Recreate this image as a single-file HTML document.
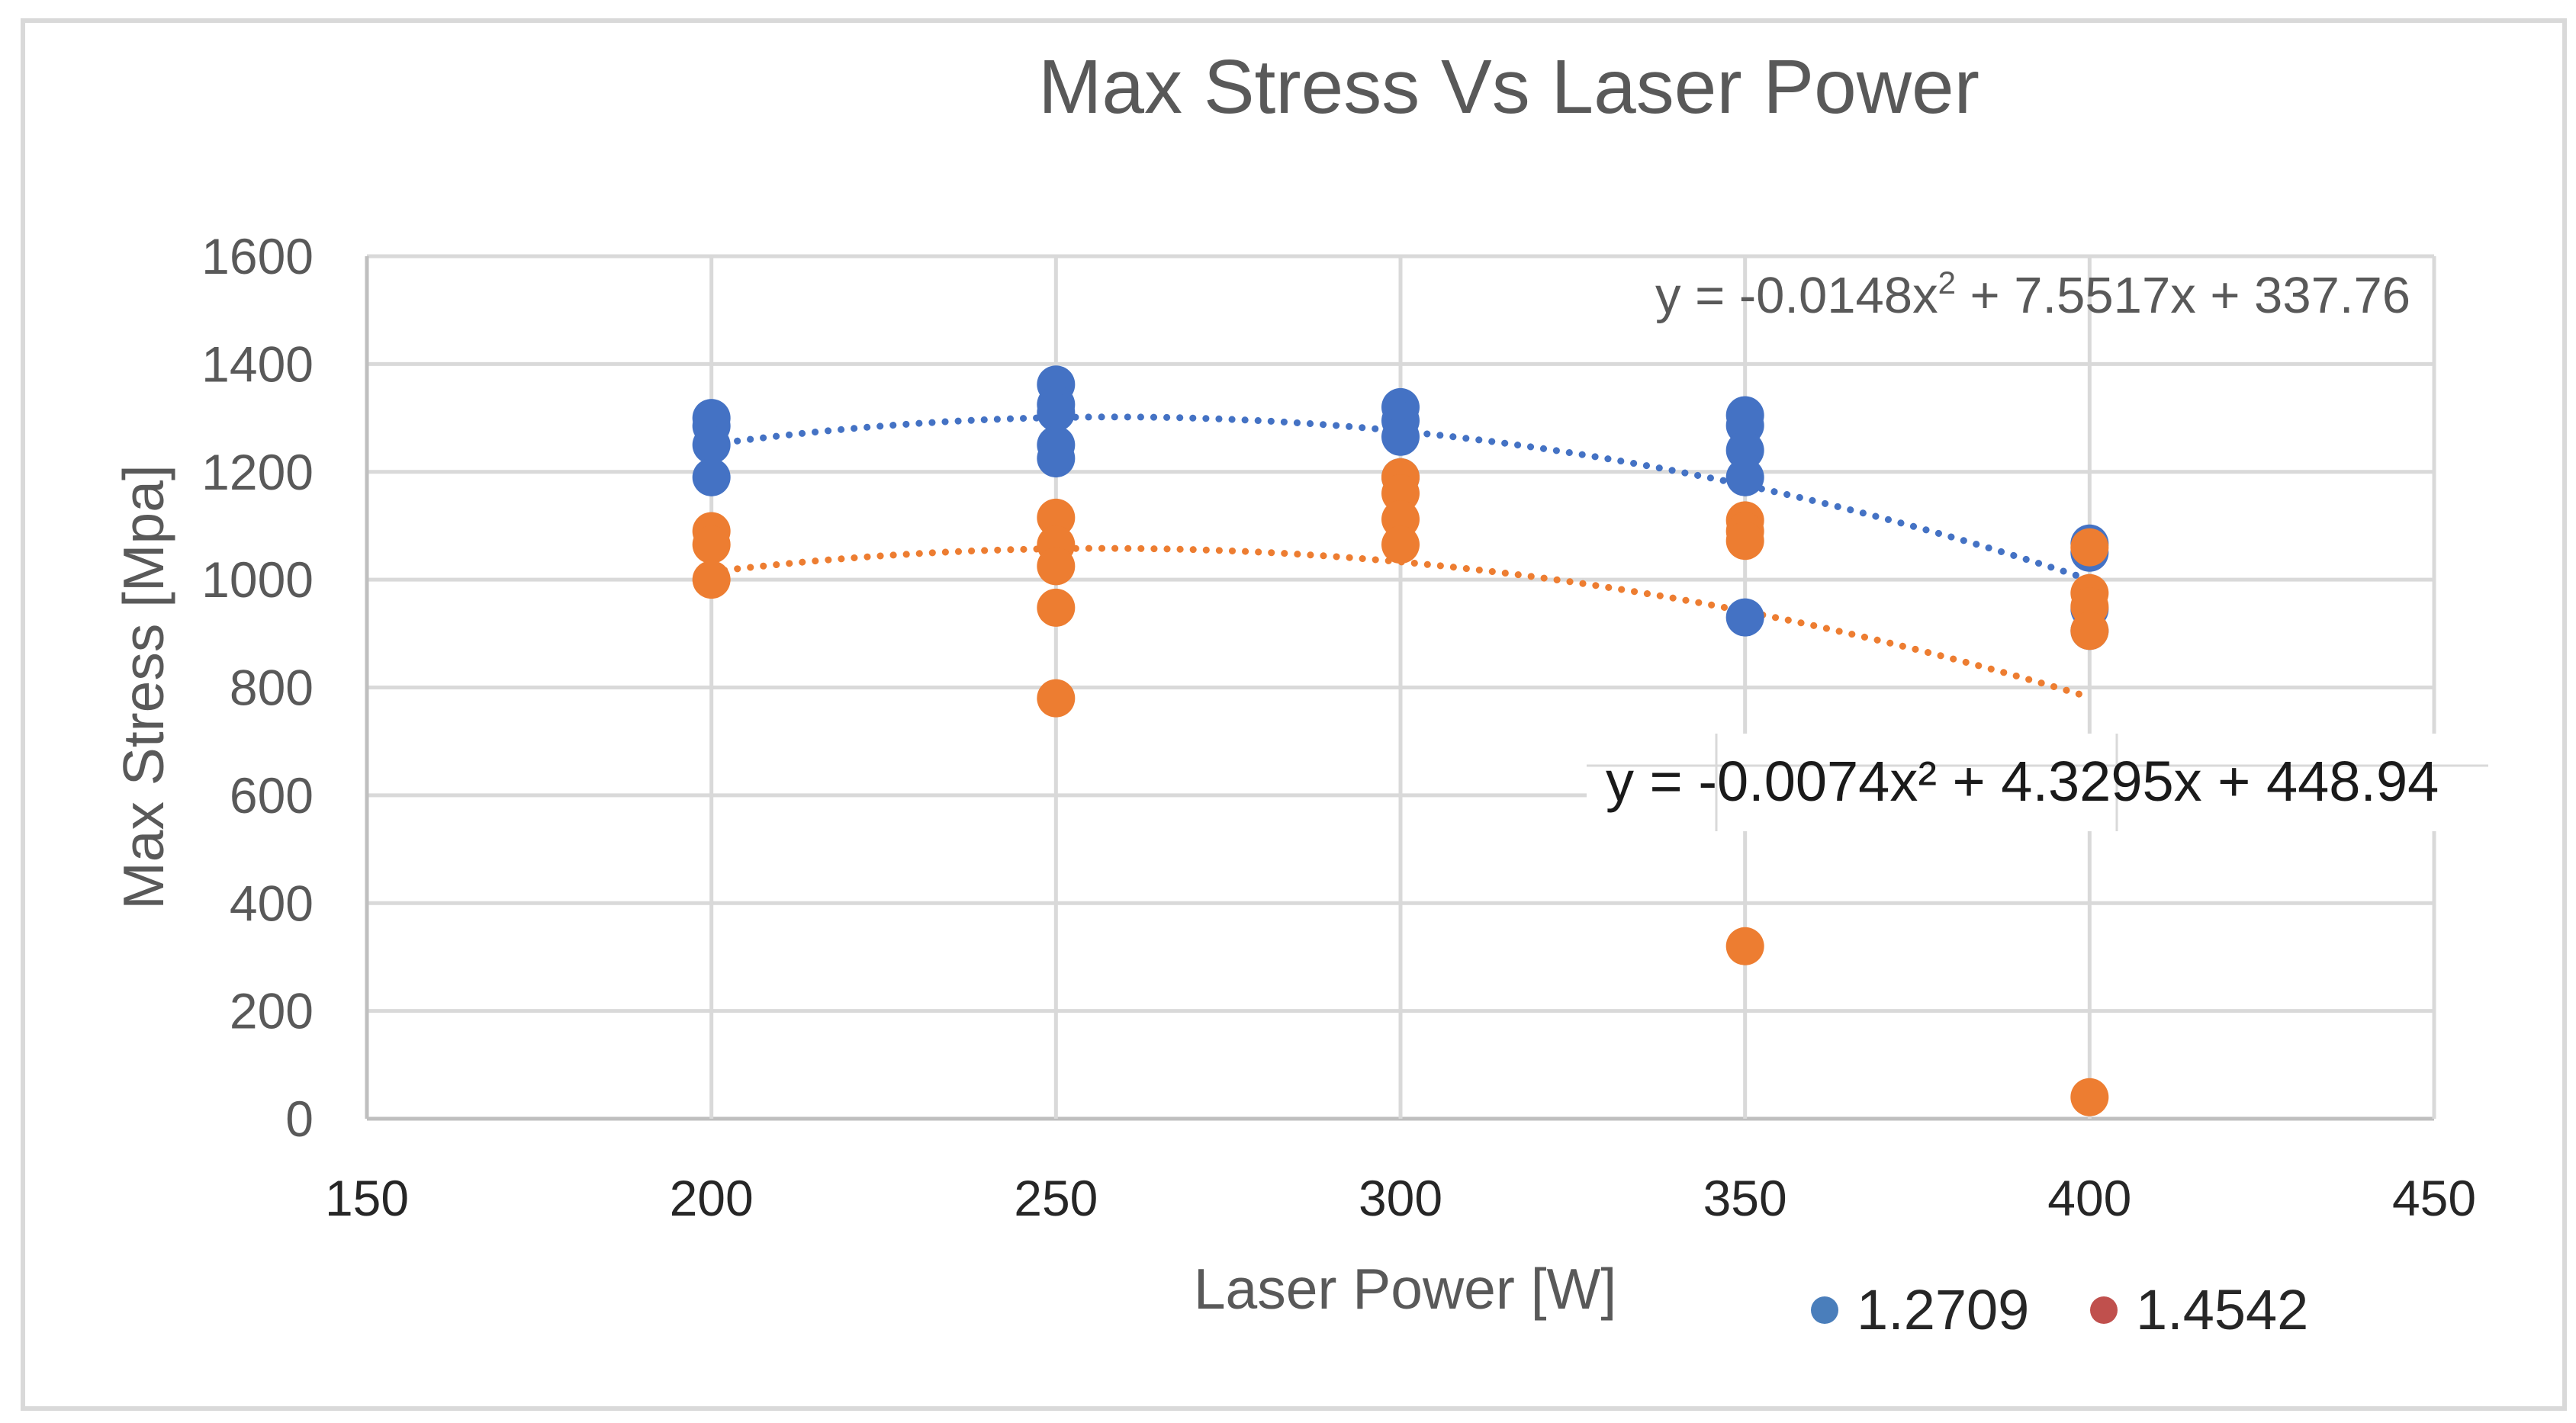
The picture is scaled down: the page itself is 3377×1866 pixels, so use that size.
<!DOCTYPE html>
<html><head><meta charset="utf-8"><style>
html,body{margin:0;padding:0;background:#fff}
svg{display:block}
text{font-family:"Liberation Sans",sans-serif}
</style></head><body>
<svg id="chart" width="3377" height="1866" viewBox="0 0 3377 1866" xmlns="http://www.w3.org/2000/svg">
<rect x="30" y="27" width="3332" height="1820" fill="#fff" stroke="#d9d9d9" stroke-width="6"/>
<text x="1978" y="148" text-anchor="middle" font-size="100" fill="#595959">Max Stress Vs Laser Power</text>
<g id="grid"></g>
<g id="trends"></g>
<g id="points"></g>
<g id="labels"></g>
<text transform="translate(214,901) rotate(-90)" text-anchor="middle" font-size="75" fill="#595959">Max Stress [Mpa]</text>
<text x="1842" y="1716" text-anchor="middle" font-size="75" fill="#595959">Laser Power [W]</text>
<text x="3160" y="410" text-anchor="end" font-size="67" fill="#595959">y = -0.0148x<tspan font-size="42" dy="-25">2</tspan><tspan dy="25"> + 7.5517x + 337.76</tspan></text>
<g>
<rect x="2080" y="962" width="1190" height="128" fill="#fff"/>
<line x1="2080" y1="1004" x2="3262" y2="1004" stroke="#d9d9d9" stroke-width="3"/>
<line x1="2250" y1="962" x2="2250" y2="1090" stroke="#d9d9d9" stroke-width="3"/>
<line x1="2775" y1="962" x2="2775" y2="1090" stroke="#d9d9d9" stroke-width="3"/>
</g>
<text x="2105" y="1050" font-size="74" fill="#1a1a1a">y = -0.0074x² + 4.3295x + 448.94</text>
<g>
<circle cx="2392" cy="1718" r="18" fill="#4a7ebb"/>
<text x="2434" y="1743" font-size="74" fill="#262626">1.2709</text>
<circle cx="2758" cy="1718" r="18" fill="#c0504d"/>
<text x="2800" y="1743" font-size="74" fill="#262626">1.4542</text>
</g>
</svg>
<script>
const xTicks=[150,200,250,300,350,400,450];
const yTicks=[0,200,400,600,800,1000,1200,1400,1600];
const blueX=[200,200,200,200,250,250,250,250,250,300,300,300,300,350,350,350,350,350,400,400,400,400];
const blueY=[1300,1285,1250,1190,1362,1325,1310,1250,1225,1320,1295,1265,1190,1305,1286,1240,1190,930,1067,1050,945,905];
const orangeX=[200,200,200,250,250,250,250,250,300,300,300,300,350,350,350,350,400,400,400,400,400];
const orangeY=[1090,1065,1000,1115,1065,1025,948,780,1190,1160,1112,1065,1110,1090,1072,320,1060,975,950,905,40];
const L=481,R=3191,T=336,B=1467;
const xs=v=>L+(v-150)/300*(R-L);
const ys=v=>B-v/1600*(B-T);
const NS='http://www.w3.org/2000/svg';
function mk(tag,attrs,parent){const e=document.createElementNS(NS,tag);for(const k in attrs)e.setAttribute(k,attrs[k]);parent.appendChild(e);return e;}
const grid=document.getElementById('grid'),lab=document.getElementById('labels');
yTicks.forEach(v=>{
 const l=mk('line',{x1:L,x2:R,y1:ys(v),y2:ys(v),stroke:v===0?'#bfbfbf':'#d9d9d9','stroke-width':5},grid);
 
 
 const t=mk('text',{x:411,y:ys(v)+23,'text-anchor':'end','font-size':66,fill:'#595959'},lab);
 t.textContent=v;
 
 
});
xTicks.forEach(v=>{
 const l=mk('line',{x1:xs(v),x2:xs(v),y1:T,y2:B,stroke:v===150?'#bfbfbf':'#d9d9d9','stroke-width':5},grid);
 
 
 const t=mk('text',{x:xs(v),y:1594,'text-anchor':'middle','font-size':66,fill:'#262626'},lab);
 t.textContent=v;
 
 
});
function fit(X,Y){
 let S=[0,0,0,0,0],Ty=[0,0,0];
 for(let i=0;i<X.length;i++){const x=X[i]-300,y=Y[i];let p=1;for(let k=0;k<5;k++){S[k]+=p;if(k<3)Ty[k]+=p*y;p*=x;}}
 const A=[[S[0],S[1],S[2],Ty[0]],[S[1],S[2],S[3],Ty[1]],[S[2],S[3],S[4],Ty[2]]];
 for(let i=0;i<3;i++){for(let j=i+1;j<3;j++){const f=A[j][i]/A[i][i];for(let k=i;k<4;k++)A[j][k]-=f*A[i][k];}}
 const c=[0,0,0];for(let i=2;i>=0;i--){let s=A[i][3];for(let k=i+1;k<3;k++)s-=A[i][k]*c[k];c[i]=s/A[i][i];}
 return x=>c[0]+c[1]*(x-300)+c[2]*(x-300)*(x-300);
}
const tr=document.getElementById('trends'),pts=document.getElementById('points');
[[blueX,blueY,'#4472c4','blue'],[orangeX,orangeY,'#ed7d31','orange']].forEach(([X,Y,col,nm])=>{
 const f=fit(X,Y);let d='';
 for(let x=200;x<=400;x+=2)d+=(x===200?'M':'L')+xs(x).toFixed(1)+' '+ys(f(x)).toFixed(1);
 const p=mk('path',{d:d,fill:'none',stroke:col,'stroke-width':9,'stroke-linecap':'round','stroke-dasharray':'0.1 17'},tr);
 
 
});
[[blueX,blueY,'#4472c4','blue'],[orangeX,orangeY,'#ed7d31','orange']].forEach(([X,Y,col,nm])=>{
 X.forEach((x,i)=>{
  const c=mk('circle',{cx:xs(x),cy:ys(Y[i]),r:25,fill:col},pts);
  
  
 });
});
</script>
</body></html>
